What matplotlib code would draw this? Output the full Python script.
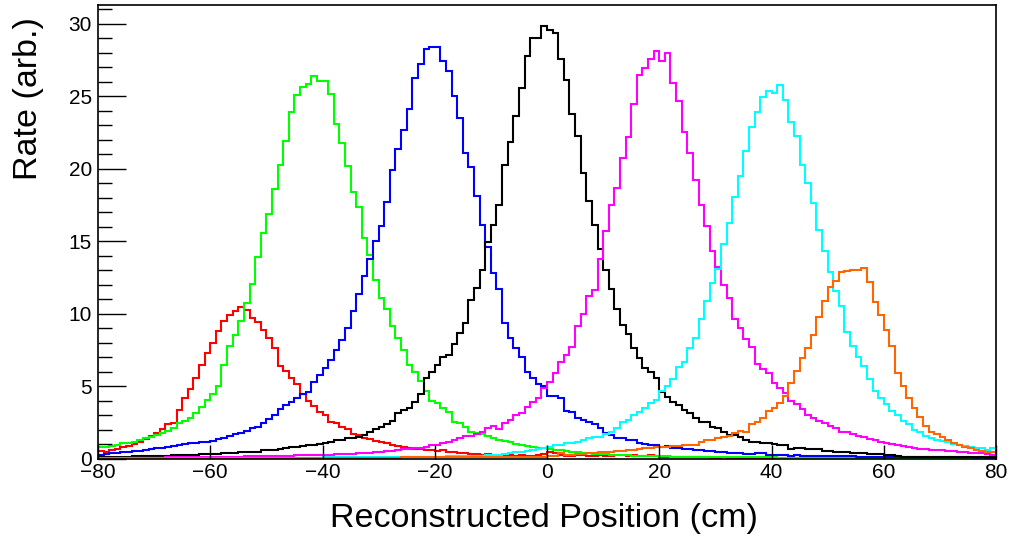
import numpy as np
import matplotlib
matplotlib.use("Agg")
import matplotlib.pyplot as plt

plt.rcParams['font.family'] = ['Liberation Sans', 'DejaVu Sans']

# Bin edges: 1 cm bins from -80 to 80
bin_lo, bin_hi = -80, 80

red = [
    0.55, 0.50, 0.60, 0.70, 0.80, 0.90, 1.05, 1.20, 1.40, 1.60,
    1.77, 2.05, 2.38, 2.46, 3.38, 4.20, 4.80, 5.60, 6.50, 7.30,
    8.00, 8.80, 9.50, 9.95, 10.20, 10.45, 10.28, 9.70, 9.43, 8.90,
    8.37, 7.65, 6.42, 6.10, 5.56, 5.15, 4.50, 4.00, 3.62, 3.26,
    3.03, 2.52, 2.50, 2.23, 2.10, 1.70, 1.65, 1.47, 1.38, 1.24,
    1.20, 1.08, 0.97, 0.92, 0.85, 0.78, 0.70, 0.72, 0.62, 0.62,
    0.55, 0.60, 0.50, 0.48, 0.40, 0.42, 0.35, 0.33, 0.30, 0.32,
    0.28, 0.30, 0.25, 0.27, 0.22, 0.25, 0.20, 0.22, 0.30, 0.35,
    0.45, 0.40, 0.30, 0.22, 0.20, 0.25, 0.30, 0.20, 0.18, 0.25,
    0.20, 0.22, 0.30, 0.25, 0.20, 0.28, 0.22, 0.20, 0.25, 0.20,
    0.15, 0.14, 0.15, 0.13, 0.12, 0.13, 0.12, 0.11, 0.12, 0.10,
    0.10, 0.11, 0.10, 0.09, 0.10, 0.09, 0.08, 0.09, 0.08, 0.08,
    0.08, 0.07, 0.08, 0.07, 0.07, 0.06, 0.07, 0.06, 0.06, 0.06,
    0.05, 0.06, 0.05, 0.05, 0.05, 0.04, 0.05, 0.04, 0.04, 0.04,
    0.04, 0.04, 0.03, 0.04, 0.03, 0.03, 0.03, 0.03, 0.03, 0.03,
    0.03, 0.02, 0.03, 0.02, 0.02, 0.02, 0.02, 0.02, 0.02, 0.02,
]

green = [
    0.85, 0.85, 0.92, 0.97, 1.08, 1.13, 1.20, 1.31, 1.43, 1.54,
    1.66, 1.77, 1.93, 2.11, 2.50, 2.65, 2.85, 3.20, 3.60, 4.10,
    4.50, 5.00, 6.50, 7.80, 8.55, 9.54, 10.74, 12.07, 13.90, 15.60,
    16.90, 18.60, 20.30, 21.90, 23.90, 25.10, 25.63, 25.86, 26.41, 26.07,
    26.07, 25.15, 23.08, 21.80, 20.20, 18.40, 17.36, 15.26, 14.07, 12.34,
    11.13, 10.34, 9.20, 8.32, 7.52, 6.48, 6.02, 5.38, 4.69, 4.00,
    3.84, 3.54, 3.26, 2.57, 2.46, 2.23, 1.89, 1.77, 1.70, 1.61,
    1.43, 1.31, 1.24, 1.15, 1.01, 0.97, 0.90, 0.80, 0.74, 0.74,
    0.70, 0.62, 0.60, 0.55, 0.50, 0.48, 0.40, 0.38, 0.35, 0.33,
    0.32, 0.30, 0.28, 0.25, 0.25, 0.24, 0.22, 0.22, 0.21, 0.20,
    0.18, 0.18, 0.17, 0.17, 0.16, 0.16, 0.15, 0.15, 0.15, 0.14,
    0.14, 0.14, 0.13, 0.13, 0.13, 0.12, 0.12, 0.12, 0.11, 0.11,
    0.11, 0.10, 0.10, 0.10, 0.10, 0.09, 0.09, 0.09, 0.09, 0.08,
    0.08, 0.08, 0.08, 0.08, 0.07, 0.07, 0.07, 0.07, 0.07, 0.06,
    0.06, 0.06, 0.06, 0.06, 0.06, 0.05, 0.05, 0.05, 0.05, 0.05,
    0.05, 0.05, 0.04, 0.04, 0.04, 0.04, 0.04, 0.04, 0.04, 0.04,
]

blue = [
    0.30, 0.32, 0.38, 0.42, 0.46, 0.50, 0.55, 0.58, 0.62, 0.68,
    0.74, 0.78, 0.85, 0.90, 0.97, 1.00, 1.08, 1.12, 1.18, 1.20,
    1.22, 1.36, 1.47, 1.61, 1.72, 1.82, 1.95, 2.13, 2.18, 2.46,
    2.74, 3.03, 3.45, 3.74, 3.95, 4.20, 4.50, 4.60, 5.30, 5.80,
    6.30, 6.80, 7.50, 8.20, 9.00, 10.20, 11.40, 12.60, 13.80, 15.06,
    16.07, 17.75, 19.89, 21.38, 22.69, 24.14, 26.25, 27.24, 28.27, 28.43,
    28.43, 27.47, 26.78, 25.06, 23.54, 21.08, 20.16, 18.14, 16.14, 14.60,
    12.85, 11.72, 9.36, 8.37, 7.68, 7.06, 5.98, 5.56, 5.15, 5.05,
    4.35, 4.35, 4.18, 3.31, 3.26, 2.80, 2.69, 2.53, 2.39, 2.11,
    1.77, 1.66, 1.47, 1.47, 1.31, 1.31, 1.08, 1.00, 0.97, 0.97,
    0.85, 0.92, 0.74, 0.74, 0.72, 0.70, 0.65, 0.60, 0.58, 0.55,
    0.50, 0.45, 0.40, 0.40, 0.38, 0.36, 0.35, 0.40, 0.42, 0.30,
    0.25, 0.26, 0.25, 0.24, 0.25, 0.23, 0.20, 0.21, 0.20, 0.20,
    0.19, 0.20, 0.18, 0.19, 0.18, 0.17, 0.16, 0.15, 0.16, 0.15,
    0.15, 0.14, 0.15, 0.14, 0.14, 0.13, 0.14, 0.13, 0.13, 0.12,
    0.12, 0.12, 0.11, 0.12, 0.11, 0.11, 0.10, 0.11, 0.10, 0.10,
]

black = [
    0.12, 0.12, 0.13, 0.14, 0.15, 0.17, 0.18, 0.19, 0.20, 0.21,
    0.22, 0.23, 0.24, 0.25, 0.27, 0.28, 0.30, 0.30, 0.32, 0.33,
    0.35, 0.37, 0.40, 0.40, 0.42, 0.45, 0.45, 0.50, 0.50, 0.60,
    0.62, 0.62, 0.72, 0.74, 0.82, 0.85, 0.87, 0.95, 0.97, 1.05,
    1.08, 1.20, 1.30, 1.33, 1.43, 1.45, 1.54, 1.66, 1.89, 2.05,
    2.20, 2.40, 2.65, 3.20, 3.38, 3.49, 3.95, 4.46, 5.56, 6.02,
    6.48, 7.06, 7.17, 7.91, 8.67, 9.36, 10.97, 11.77, 13.03, 14.97,
    16.10, 17.50, 20.27, 21.88, 23.65, 25.60, 27.80, 29.00, 29.03, 29.83,
    29.60, 29.35, 27.60, 26.10, 23.80, 22.25, 19.75, 17.77, 16.10, 14.50,
    13.03, 11.72, 10.34, 9.24, 8.60, 7.63, 6.94, 6.30, 5.98, 5.60,
    4.64, 4.30, 3.95, 3.72, 3.38, 3.15, 2.80, 2.57, 2.57, 2.23,
    2.11, 1.84, 1.66, 1.66, 1.54, 1.31, 1.20, 1.20, 1.08, 1.08,
    1.00, 0.97, 0.97, 0.67, 0.74, 0.74, 0.69, 0.69, 0.69, 0.55,
    0.55, 0.46, 0.46, 0.46, 0.40, 0.40, 0.40, 0.33, 0.33, 0.33,
    0.25, 0.25, 0.23, 0.17, 0.17, 0.17, 0.17, 0.16, 0.17, 0.16,
    0.16, 0.17, 0.16, 0.16, 0.15, 0.16, 0.15, 0.15, 0.16, 0.15,
]

magenta = [
    0.05, 0.05, 0.06, 0.06, 0.07, 0.07, 0.08, 0.08, 0.09, 0.09,
    0.10, 0.10, 0.11, 0.11, 0.12, 0.12, 0.13, 0.13, 0.14, 0.14,
    0.15, 0.15, 0.16, 0.16, 0.17, 0.17, 0.18, 0.18, 0.19, 0.20,
    0.20, 0.21, 0.22, 0.22, 0.24, 0.25, 0.26, 0.27, 0.28, 0.28,
    0.30, 0.31, 0.32, 0.33, 0.35, 0.36, 0.38, 0.40, 0.42, 0.45,
    0.48, 0.52, 0.58, 0.65, 0.70, 0.72, 0.74, 0.78, 0.85, 0.95,
    0.97, 1.10, 1.20, 1.31, 1.47, 1.60, 1.62, 1.75, 1.89, 2.11,
    2.28, 2.10, 2.46, 2.69, 3.03, 3.15, 3.60, 3.95, 4.18, 4.92,
    5.29, 5.90, 6.71, 7.20, 7.75, 9.20, 9.98, 11.26, 11.66, 13.80,
    15.72, 17.52, 18.71, 20.74, 22.18, 24.46, 26.48, 26.94, 27.59, 28.16,
    27.45, 27.98, 25.90, 24.70, 22.57, 21.12, 19.22, 17.52, 16.08, 14.35,
    13.26, 12.00, 11.08, 9.66, 9.00, 8.28, 7.75, 6.53, 6.20, 5.90,
    5.22, 4.87, 4.53, 4.00, 3.77, 3.45, 3.03, 2.80, 2.62, 2.46,
    2.30, 2.11, 1.89, 1.85, 1.70, 1.60, 1.50, 1.40, 1.30, 1.20,
    1.10, 1.05, 0.95, 0.90, 0.80, 0.75, 0.70, 0.68, 0.65, 0.62,
    0.60, 0.55, 0.52, 0.50, 0.48, 0.42, 0.40, 0.38, 0.32, 0.28,
]

cyan = [
    0.03, 0.03, 0.03, 0.03, 0.04, 0.04, 0.04, 0.04, 0.04, 0.05,
    0.05, 0.05, 0.05, 0.05, 0.05, 0.06, 0.06, 0.06, 0.06, 0.06,
    0.06, 0.07, 0.07, 0.07, 0.07, 0.07, 0.08, 0.08, 0.08, 0.08,
    0.08, 0.09, 0.09, 0.09, 0.09, 0.10, 0.10, 0.10, 0.10, 0.10,
    0.11, 0.11, 0.11, 0.12, 0.12, 0.12, 0.12, 0.13, 0.13, 0.13,
    0.13, 0.14, 0.14, 0.14, 0.15, 0.15, 0.15, 0.16, 0.16, 0.16,
    0.17, 0.17, 0.18, 0.18, 0.19, 0.20, 0.20, 0.20, 0.22, 0.28,
    0.28, 0.30, 0.32, 0.40, 0.45, 0.50, 0.55, 0.62, 0.68, 0.75,
    0.85, 0.97, 0.97, 1.08, 1.08, 1.20, 1.31, 1.43, 1.50, 1.54,
    1.70, 1.89, 2.11, 2.53, 2.69, 3.03, 3.22, 3.49, 3.84, 4.07,
    4.69, 5.06, 5.52, 6.37, 6.71, 7.63, 8.37, 9.66, 10.90, 12.11,
    13.10, 14.80, 16.25, 18.09, 19.52, 21.24, 22.92, 23.95, 24.99, 25.38,
    25.22, 25.80, 24.76, 23.26, 22.30, 20.28, 19.00, 17.63, 15.79, 14.34,
    12.92, 11.59, 10.57, 8.78, 7.82, 7.06, 6.44, 5.52, 4.69, 4.18,
    3.77, 3.31, 3.03, 2.62, 2.39, 2.00, 1.89, 1.61, 1.47, 1.31,
    1.24, 1.15, 1.01, 0.97, 0.92, 0.85, 0.78, 0.74, 0.62, 0.74,
]

orange = [
    0.04, 0.04, 0.04, 0.04, 0.04, 0.04, 0.04, 0.04, 0.05, 0.05,
    0.05, 0.05, 0.05, 0.05, 0.05, 0.05, 0.05, 0.05, 0.06, 0.06,
    0.06, 0.06, 0.06, 0.06, 0.06, 0.06, 0.06, 0.07, 0.07, 0.07,
    0.07, 0.07, 0.07, 0.07, 0.07, 0.08, 0.08, 0.08, 0.08, 0.08,
    0.08, 0.08, 0.09, 0.09, 0.09, 0.09, 0.09, 0.09, 0.10, 0.10,
    0.10, 0.10, 0.10, 0.10, 0.11, 0.11, 0.11, 0.11, 0.11, 0.12,
    0.12, 0.12, 0.12, 0.12, 0.13, 0.13, 0.13, 0.13, 0.13, 0.14,
    0.14, 0.14, 0.14, 0.15, 0.15, 0.15, 0.15, 0.16, 0.16, 0.16,
    0.18, 0.22, 0.40, 0.25, 0.30, 0.35, 0.35, 0.40, 0.40, 0.45,
    0.45, 0.50, 0.55, 0.55, 0.60, 0.65, 0.70, 0.75, 0.75, 0.80,
    0.85, 0.85, 0.90, 0.92, 0.95, 0.97, 0.97, 1.15, 1.31, 1.31,
    1.43, 1.54, 1.61, 1.77, 1.93, 1.84, 2.39, 2.53, 2.80, 3.31,
    3.49, 3.84, 4.37, 5.22, 6.07, 6.94, 7.63, 8.55, 9.82, 10.90,
    11.89, 12.30, 12.92, 12.97, 13.03, 13.05, 13.15, 12.20, 10.85, 9.90,
    8.90, 7.80, 5.90, 5.00, 4.20, 3.50, 2.90, 2.30, 1.85, 1.70,
    1.50, 1.30, 1.08, 0.97, 0.85, 0.74, 0.62, 0.55, 0.50, 0.50,
]

series = [
    (red, '#ff0000'),
    (green, '#00ff00'),
    (blue, '#0000ff'),
    (black, '#000000'),
    (magenta, '#ff00ff'),
    (cyan, '#00ffff'),
    (orange, '#ff6600'),
]

x_ticks = [-80, -60, -40, -20, 0, 20, 40, 60, 80]
y_ticks = [0, 5, 10, 15, 20, 25, 30]

W, H = 1013, 536
fig = plt.figure(figsize=(W / 100, H / 100), dpi=100)
ax = fig.add_axes([98 / W, (H - 459) / H, 898 / W, (459 - 5) / H])

edges = np.arange(bin_lo, bin_hi + 1)
for vals, col in series:
    ax.stairs(vals, edges, baseline=None, color=col, lw=1.5)

ax.set_xlim(bin_lo, bin_hi)
ax.set_ylim(0, 31.3)
ax.set_xticks(x_ticks)
ax.set_yticks(y_ticks)
ax.set_yticks(np.arange(0, 32, 1), minor=True)
ax.tick_params(axis='both', which='both', direction='in', top=False, right=False)
ax.tick_params(axis='y', which='major', length=20, width=1.0, pad=4.5, labelsize=15)
ax.tick_params(axis='y', which='minor', length=10, width=1.0)
ax.tick_params(axis='x', which='major', length=10, width=1.0, pad=3, labelsize=15)
for s in ax.spines.values():
    s.set_linewidth(1.2)

fig.text(544 / W, 1 - 518 / H, 'Reconstructed Position (cm)', ha='center', va='center', fontsize=24.5)
fig.text(28 / W, 1 - 17 / H, 'Rate (arb.)', ha='center', va='top', rotation=90, fontsize=24.5)

fig.savefig('out.png', dpi=100)
